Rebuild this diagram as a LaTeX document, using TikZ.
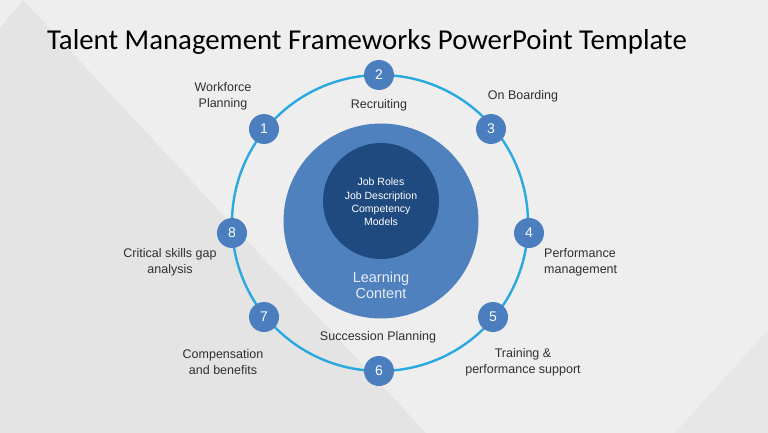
\documentclass[tikz,border=0pt]{standalone}
\usepackage{fontspec}
\setmainfont{Liberation Sans}
\newfontfamily\titlefont{Carlito}
\definecolor{bgmain}{HTML}{EEEEEE}
\definecolor{bgdark}{HTML}{E4E4E4}
\definecolor{bgcorner}{HTML}{E7E7E7}
\definecolor{ringc}{HTML}{2AA8E0}
\definecolor{numc}{HTML}{4A7EBF}
\definecolor{bigc}{HTML}{4F81BF}
\definecolor{innerc}{HTML}{1F4A80}
\definecolor{labc}{HTML}{303030}
\definecolor{lighttxt}{HTML}{E6ECF6}
\tikzset{
  numnode/.style={circle, fill=numc, minimum size=30pt, inner sep=0pt, text=white, font=\fontsize{14}{14}\selectfont},
  lab/.style={text=labc, font=\fontsize{12.5}{16}\selectfont, align=center, inner sep=0pt},
}
\begin{document}
\begin{tikzpicture}[x=1pt,y=-1pt]
\useasboundingbox (0,0) rectangle (768,433);
\fill[bgmain] (0,0) rectangle (768,433);
\fill[bgdark] (0,28) -- (23,0) -- (426,433) -- (0,433) -- cycle;
\fill[bgcorner] (768,330) -- (768,433) -- (675,433) -- cycle;
% title
\node[anchor=base west, inner sep=0pt, font=\titlefont\fontsize{28.8}{28.8}\selectfont] (title) at (47,50) {Talent Management Frameworks PowerPoint Template};
% ring
\coordinate (ctr) at (380,223);
\draw[ringc, line width=2.4pt] (ctr) circle[radius=148];
% central circles
\node[circle, fill=bigc, minimum size=195pt, inner sep=0pt] (big) at (381,221) {};
\node[circle, fill=innerc, minimum size=116pt, inner sep=0pt] (inner) at (381,201) {};
\node[text=white, font=\fontsize{10.5}{13.4}\selectfont, align=center, inner sep=0pt] (roles) at (381,202) {Job Roles\\Job Description\\Competency\\Models};
\node[text=lighttxt, font=\fontsize{14.5}{16}\selectfont, align=center, inner sep=0pt] (learn) at (381,285) {Learning\\Content};
% number circles
\node[numnode] (n1) at (264,129) {1};
\node[numnode] (n2) at (379,75) {2};
\node[numnode] (n3) at (491,129) {3};
\node[numnode] (n4) at (529,233) {4};
\node[numnode] (n5) at (493,317) {5};
\node[numnode] (n6) at (379,371) {6};
\node[numnode] (n7) at (264,317) {7};
\node[numnode] (n8) at (232,233) {8};
% labels
\node[lab] (l1) at (223,96) {Workforce\\Planning};
\node[lab] (l2) at (379,105) {Recruiting};
\node[lab] (l3) at (523,96) {On Boarding};
\node[lab, align=left, anchor=west] (l4) at (544,262) {Performance\\management};
\node[lab] (l5) at (523,362) {Training \&\\performance support};
\node[lab] (l6) at (378,337) {Succession Planning};
\node[lab] (l7) at (223,362) {Compensation\\and benefits};
\node[lab] (l8) at (170,262) {Critical skills gap\\analysis};
\end{tikzpicture}
\end{document}
